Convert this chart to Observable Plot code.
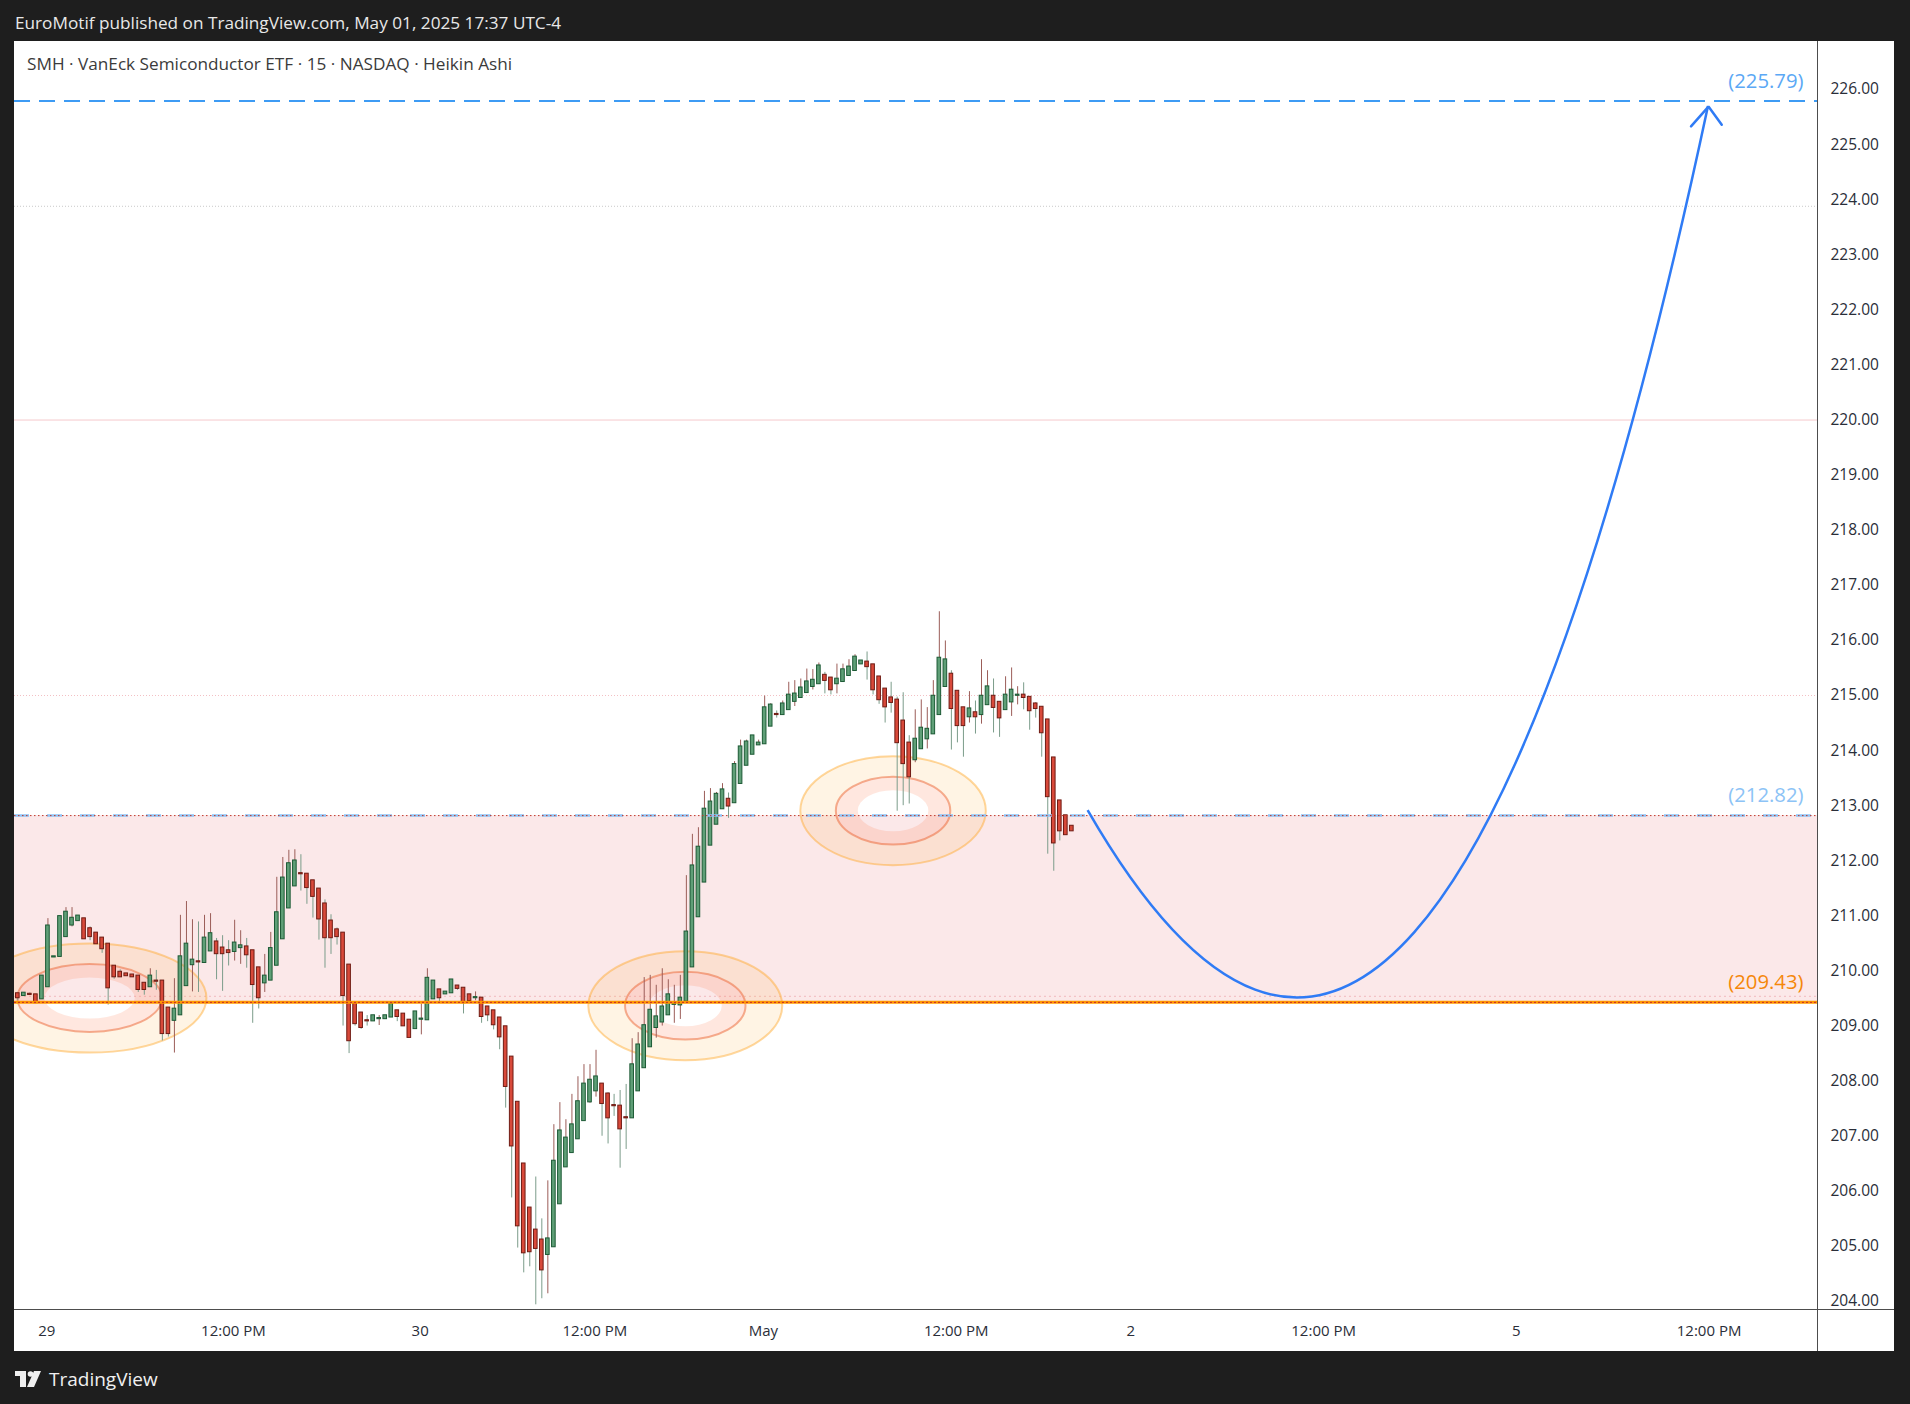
<!DOCTYPE html>
<html>
<head>
<meta charset="utf-8">
<script src="https://cdn.jsdelivr.net/npm/d3@7"></script>
<script src="https://cdn.jsdelivr.net/npm/@observablehq/plot@0.6"></script>
<style>
  html, body { margin: 0; padding: 0; background: #1e1e1e; }
  body { width: 1910px; height: 1404px; position: relative; overflow: hidden; font-family: "Open Sans", sans-serif; }
  #header { position: absolute; left: 15px; top: 1px; height: 41px; line-height: 44px; color: #e8e8e8; font-size: 17.2px; white-space: nowrap; }
  #panel { position: absolute; left: 14px; top: 41px; width: 1880px; height: 1310px; background: #ffffff; }
  #chart { position: absolute; left: 0; top: 0; }
  #title { position: absolute; left: 13px; top: 11px; color: #3b3b3b; font-size: 17.2px; white-space: nowrap; }
  #footer { position: absolute; left: 15px; top: 1365px; height: 28px; display: flex; align-items: center; color: #f0f0f0; font-size: 19px; }
  #footer svg { margin-right: 6px; }
</style>
</head>
<body>
<div id="header">EuroMotif published on TradingView.com, May 01, 2025 17:37 UTC-4</div>
<div id="panel"><div id="chart"></div><div id="title">SMH · VanEck Semiconductor ETF · 15 · NASDAQ · Heikin Ashi</div></div>
<div id="footer"><svg width="28" height="16" viewBox="0 0 28 16"><rect x="0" y="0" width="11" height="5" fill="#f0f0f0"/><rect x="5" y="0" width="6" height="16" fill="#f0f0f0"/><circle cx="15.5" cy="3" r="2.8" fill="#f0f0f0"/><polygon points="19,0 26,0 19,16 12,16" fill="#f0f0f0"/></svg><span>TradingView</span></div>
<script>
// ---- Heikin Ashi 15-min candles (SMH) ----
const openP = [
209.59,209.55,209.58,209.57,209.49,209.71,210.25,210.26,210.62,210.83,210.91,210.95,210.77,210.69,210.60,210.49,210.09,209.98,209.95,209.93,
209.91,209.78,209.71,209.82,209.82,209.33,209.10,209.20,209.73,210.11,210.17,210.15,210.36,210.53,210.42,210.37,210.35,210.42,210.44,210.37,
210.06,209.78,209.83,210.10,210.58,211.14,211.54,211.77,211.76,211.64,211.49,211.22,210.91,210.75,210.69,210.11,209.42,209.24,209.10,209.09,
209.13,209.13,209.16,209.28,209.22,209.11,208.95,209.12,209.11,209.49,209.66,209.58,209.60,209.73,209.69,209.57,209.51,209.51,209.35,209.28,
209.15,208.99,208.44,207.62,206.50,205.70,205.30,205.12,204.85,204.99,205.77,206.44,206.70,206.95,207.28,207.62,207.82,207.95,207.77,207.56,
207.55,207.34,207.33,207.82,208.24,208.62,208.97,209.07,209.20,209.39,209.38,209.45,210.07,210.98,211.61,212.28,212.66,212.94,213.12,213.05,
213.40,213.73,213.93,214.10,214.12,214.44,214.66,214.65,214.74,214.89,214.96,215.05,215.16,215.21,215.37,215.32,215.21,215.25,215.36,215.45,
215.57,215.61,215.56,215.34,215.12,214.96,214.92,214.54,214.14,213.83,214.03,214.21,214.30,214.65,215.16,215.39,215.08,214.78,214.61,214.69,
214.65,214.83,214.99,214.88,214.74,214.88,215.00,215.01,214.97,214.85,214.79,214.56,213.87,213.09,212.82,212.63];
const highP = [
209.59,209.60,209.60,209.57,209.91,210.95,210.26,210.99,211.15,211.15,211.00,210.95,210.80,210.69,210.60,210.49,210.09,210.02,209.95,209.93,
209.91,209.78,210.04,210.01,209.82,209.33,209.86,211.01,211.26,210.93,210.89,211.01,211.04,210.59,210.64,210.55,210.92,210.73,210.59,210.37,
210.06,210.30,210.70,211.70,212.06,212.19,212.20,212.11,211.76,211.64,211.49,211.29,211.02,210.78,210.69,210.11,209.42,209.24,209.19,209.19,
209.19,209.19,209.40,209.28,209.22,209.11,209.26,209.40,210.04,209.82,209.66,209.62,209.84,209.73,209.69,209.57,209.62,209.51,209.35,209.28,
209.15,208.99,208.44,207.62,206.50,205.70,206.26,205.50,206.19,207.21,207.61,207.30,207.76,208.08,208.30,208.30,208.56,207.95,207.79,207.76,
207.83,207.94,208.77,208.88,209.88,209.92,209.74,210.04,209.84,209.74,209.92,211.73,212.48,212.60,213.26,213.31,213.24,213.40,213.23,213.80,
214.19,214.19,214.27,214.19,214.99,214.85,214.72,214.90,215.24,215.27,215.30,215.48,215.47,215.59,215.42,215.32,215.57,215.57,215.65,215.74,
215.63,215.79,215.56,215.34,215.12,215.24,214.97,215.05,214.27,214.74,214.92,214.78,215.27,216.52,215.99,215.45,215.08,214.78,215.07,214.90,
215.65,215.45,215.30,214.88,215.34,215.50,215.16,215.23,214.97,214.87,214.79,214.56,213.87,213.09,212.82,212.63];
const lowP = [
209.46,209.55,209.56,209.42,209.49,209.71,210.25,210.26,210.62,210.80,210.91,210.58,210.55,210.49,210.32,209.38,209.85,209.89,209.91,209.89,
209.61,209.56,209.71,209.65,208.73,208.80,208.51,209.20,209.73,209.62,209.61,210.15,210.36,209.84,209.63,210.09,210.18,210.12,210.05,209.05,
209.31,209.61,209.83,210.10,210.58,211.14,211.54,211.45,211.21,210.96,210.56,210.05,210.30,210.47,209.00,208.50,209.00,208.94,209.00,209.09,
209.01,209.13,209.16,209.08,209.00,208.79,208.95,208.84,209.11,209.49,209.42,209.58,209.60,209.65,209.22,209.46,209.46,209.05,209.08,208.93,
208.57,207.51,205.88,204.97,204.52,204.63,203.94,204.05,204.14,204.99,205.77,206.44,206.70,206.95,207.28,207.60,207.71,207.00,206.86,207.36,
206.42,206.76,207.33,207.82,208.24,208.62,208.78,209.00,209.20,209.05,209.12,209.45,210.07,210.98,211.61,212.28,212.66,212.94,212.77,213.05,
213.40,213.73,213.93,214.10,214.12,214.44,214.59,214.65,214.74,214.80,214.96,215.05,215.10,215.21,215.03,215.01,215.03,215.25,215.36,215.45,
215.57,215.28,215.01,214.84,214.50,214.68,212.90,213.00,213.03,213.78,214.03,214.03,214.30,214.65,215.16,214.01,214.14,213.88,214.50,214.30,
214.48,214.83,214.32,214.24,214.74,214.62,214.83,214.74,214.37,214.59,213.88,212.12,211.81,212.36,212.47,212.54];
const closeP = [
209.51,209.60,209.57,209.42,209.91,210.82,210.26,210.99,211.07,210.96,211.00,210.58,210.62,210.49,210.40,209.69,209.89,209.89,209.91,209.89,
209.66,209.66,209.91,209.81,208.86,208.86,209.31,210.26,210.49,210.20,210.16,210.60,210.68,210.31,210.31,210.33,210.51,210.46,210.29,209.75,
209.51,209.91,210.41,211.06,211.69,211.95,212.00,211.76,211.51,211.35,210.94,210.60,210.60,210.62,209.55,208.73,209.04,208.97,209.09,209.19,
209.14,209.19,209.40,209.17,209.00,208.79,209.26,209.13,209.87,209.82,209.51,209.62,209.84,209.68,209.42,209.46,209.52,209.17,209.20,209.02,
208.80,207.90,206.82,205.37,204.88,204.90,204.96,204.57,205.14,206.55,207.10,206.97,207.21,207.63,207.95,208.02,208.08,207.59,207.33,207.55,
207.13,207.33,208.30,208.66,209.01,209.29,209.17,209.35,209.57,209.40,209.51,210.71,211.91,212.25,212.94,213.07,213.21,213.29,212.99,213.75,
214.07,214.16,214.27,214.14,214.78,214.83,214.65,214.85,215.01,215.03,215.14,215.25,215.28,215.54,215.27,215.10,215.30,215.47,215.52,215.70,
215.63,215.52,215.10,214.92,214.79,214.87,214.14,213.76,213.52,214.21,214.41,214.39,214.99,215.68,215.65,214.76,214.45,214.45,214.76,214.61,
214.99,215.16,214.78,214.59,215.01,215.10,215.01,214.96,214.72,214.76,214.32,213.16,212.32,212.54,212.47,212.54];

// ---- time axis (bar index of each label) ----
const tickBars   = [4.8, 35.8, 66.8, 95.8, 123.8, 155.8, 184.8, 216.8, 248.8, 280.8];
const tickLabels = ["29", "12:00 PM", "30", "12:00 PM", "May", "12:00 PM", "2", "12:00 PM", "5", "12:00 PM"];
const priceTicks = d3.range(204, 227);

// ---- drawings ----
const levelPrices = [225.79, 212.82, 209.43];
const levelLabels = ["(225.79)", "(212.82)", "(209.43)"];
const guidePrices = [223.88, 220.00, 215.00, 209.54];
// curve drawing: start, control point, end (bar index, price)
const curveBar   = [177.7, 234.7, 280.7];
const curvePrice = [212.91, 202.09, 225.69];
const arrowBar   = [277.8, 280.7, 282.9];
const arrowPrice = [225.33, 225.69, 225.36];
const ringBar    = [12.0, 110.9, 145.4];
const ringPrice  = [209.50, 209.36, 212.90];
const ringRxBars = [[19.4, 12.0, 7.5], [16.1, 10.0, 6.06], [15.4, 9.5, 5.86]];
const ringRyPrice = [0.99, 0.615, 0.372];

// ---- build ----
const candles = openP.map((o, k) => ({i: k, open: o, high: highP[k], low: lowP[k], close: closeP[k]}));
const up = candles.filter(d => d.close >= d.open);
const down = candles.filter(d => d.close < d.open);
const tickText = new Map(tickBars.map((b, k) => [b, tickLabels[k]]));

const xDomain = [-0.55, 298.8];
const yDomain = [203.855, 226.871];

const C = {
  upFill: "#5f9f77", upEdge: "#1c5a35", upWick: "#9b5d58",
  dnFill: "#d8493a", dnEdge: "#6f1b13", dnWick: "#7b9c8a",
  zone: "#fbe8e9", axis: "#2a2e39", border: "#4d4d4d", blue: "#2f7bf5"
};

function rings(index, scales) {
  const g = d3.create("svg:g");
  ringBar.forEach((b, k) => {
    const cx = scales.x(b), cy = scales.y(ringPrice[k]);
    const rx = ringRxBars[k].map(r => scales.x(b + r) - cx);
    const ry = ringRyPrice.map(r => cy - scales.y(ringPrice[k] + r));
    const ell = (a, c) => `M${cx - a},${cy}a${a},${c} 0 1,0 ${2 * a},0a${a},${c} 0 1,0 ${-2 * a},0Z`;
    g.append("path").attr("d", ell(rx[0], ry[0]) + ell(rx[1], ry[1])).attr("fill-rule", "evenodd").attr("fill", "rgba(255,183,77,0.15)");
    g.append("path").attr("d", ell(rx[1], ry[1]) + ell(rx[2], ry[2])).attr("fill-rule", "evenodd").attr("fill", "rgba(255,112,67,0.17)");
    g.append("path").attr("d", ell(rx[0], ry[0])).attr("fill", "none").attr("stroke", "rgba(255,167,38,0.45)").attr("stroke-width", 2);
    g.append("path").attr("d", ell(rx[1], ry[1])).attr("fill", "none").attr("stroke", "rgba(236,100,50,0.5)").attr("stroke-width", 2);
  });
  return g.node();
}

function curveMark(index, scales) {
  const px = curveBar.map(b => scales.x(b));
  const py = curvePrice.map(p => scales.y(p));
  const g = d3.create("svg:g");
  g.append("path")
    .attr("d", `M${px[0]},${py[0]}Q${px[1]},${py[1]} ${px[2]},${py[2]}`)
    .attr("fill", "none").attr("stroke", C.blue).attr("stroke-width", 2.5);
  return g.node();
}

function borders(index, scales, values, dim) {
  const g = d3.create("svg:g");
  const xr = dim.width - dim.marginRight, yb = dim.height - dim.marginBottom;
  g.append("line").attr("x1", xr + 0.5).attr("x2", xr + 0.5).attr("y1", 0).attr("y2", dim.height).attr("stroke", C.border);
  g.append("line").attr("x1", 0).attr("x2", dim.width).attr("y1", yb + 0.5).attr("y2", yb + 0.5).attr("stroke", C.border);
  return g.node();
}

const chart = Plot.plot({
  width: 1880, height: 1310,
  marginLeft: 0, marginRight: 77, marginTop: 0, marginBottom: 42,
  x: {type: "linear", domain: xDomain, label: null},
  y: {type: "linear", domain: yDomain, label: null},
  style: {fontFamily: "'Open Sans', sans-serif", fontSize: "15px", background: "transparent", overflow: "hidden"},
  marks: [
    Plot.rect([0], {x1: () => xDomain[0], x2: () => xDomain[1], y1: () => levelPrices[2], y2: () => levelPrices[1], fill: C.zone}),
    Plot.ruleY([guidePrices[0]], {stroke: "#c9c9c9", strokeDasharray: "1,2"}),
    Plot.ruleY([guidePrices[1]], {stroke: "#f5c9cc"}),
    Plot.ruleY([guidePrices[2]], {stroke: "#f3c0c4", strokeDasharray: "1,2"}),
    Plot.ruleY([guidePrices[3]], {stroke: "#f2b8bd", strokeDasharray: "2,3"}),
    rings,
    Plot.ruleX(up, {x: "i", y1: "low", y2: "high", stroke: C.upWick, strokeWidth: 1}),
    Plot.ruleX(down, {x: "i", y1: "low", y2: "high", stroke: C.dnWick, strokeWidth: 1}),
    Plot.rect(up, {x1: d => d.i - 0.3, x2: d => d.i + 0.3, y1: "open", y2: "close", fill: C.upFill, stroke: C.upEdge, strokeWidth: 1, insetTop: -0.3, insetBottom: -0.3}),
    Plot.rect(down, {x1: d => d.i - 0.3, x2: d => d.i + 0.3, y1: "open", y2: "close", fill: C.dnFill, stroke: C.dnEdge, strokeWidth: 1, insetTop: -0.3, insetBottom: -0.3}),
    Plot.ruleY([levelPrices[0]], {stroke: "#3d9bf4", strokeWidth: 2, strokeDasharray: "16,9"}),
    Plot.ruleY([levelPrices[1]], {stroke: "#8fc4f6", strokeWidth: 2.5, strokeDasharray: "15,18"}),
    Plot.ruleY([levelPrices[1]], {stroke: "#c0392b", strokeWidth: 1, strokeDasharray: "1.5,2.5"}),
    Plot.ruleY([levelPrices[2]], {stroke: "#ff9800", strokeWidth: 3}),
    Plot.ruleY([levelPrices[2]], {stroke: "#c62828", strokeWidth: 1, strokeDasharray: "2,2"}),
    curveMark,
    Plot.line(arrowBar.map((b, k) => [b, arrowPrice[k]]), {stroke: C.blue, strokeWidth: 2.5, strokeLinejoin: "miter"}),
    Plot.text([levelLabels[0]], {frameAnchor: "right", y: () => levelPrices[0], text: d => d, dx: -14, dy: -20, textAnchor: "end", fill: "#5ba8f5", fontSize: 20.3}),
    Plot.text([levelLabels[1]], {frameAnchor: "right", y: () => levelPrices[1], text: d => d, dx: -14, dy: -20, textAnchor: "end", fill: "#8cc3f6", fontSize: 20.3}),
    Plot.text([levelLabels[2]], {frameAnchor: "right", y: () => levelPrices[2], text: d => d, dx: -14, dy: -20, textAnchor: "end", fill: "#f5870a", fontSize: 20.3}),
    Plot.axisY(priceTicks, {anchor: "right", label: null, tickSize: 0, tickPadding: 13, tickFormat: d => d.toFixed(2), color: C.axis, fontSize: 15.5}),
    Plot.axisX(tickBars, {anchor: "bottom", label: null, tickSize: 0, tickPadding: 16, tickFormat: d => tickText.get(d), color: C.axis, fontSize: 15}),
    borders
  ]
});
document.getElementById("chart").appendChild(chart);
</script>
</body>
</html>
